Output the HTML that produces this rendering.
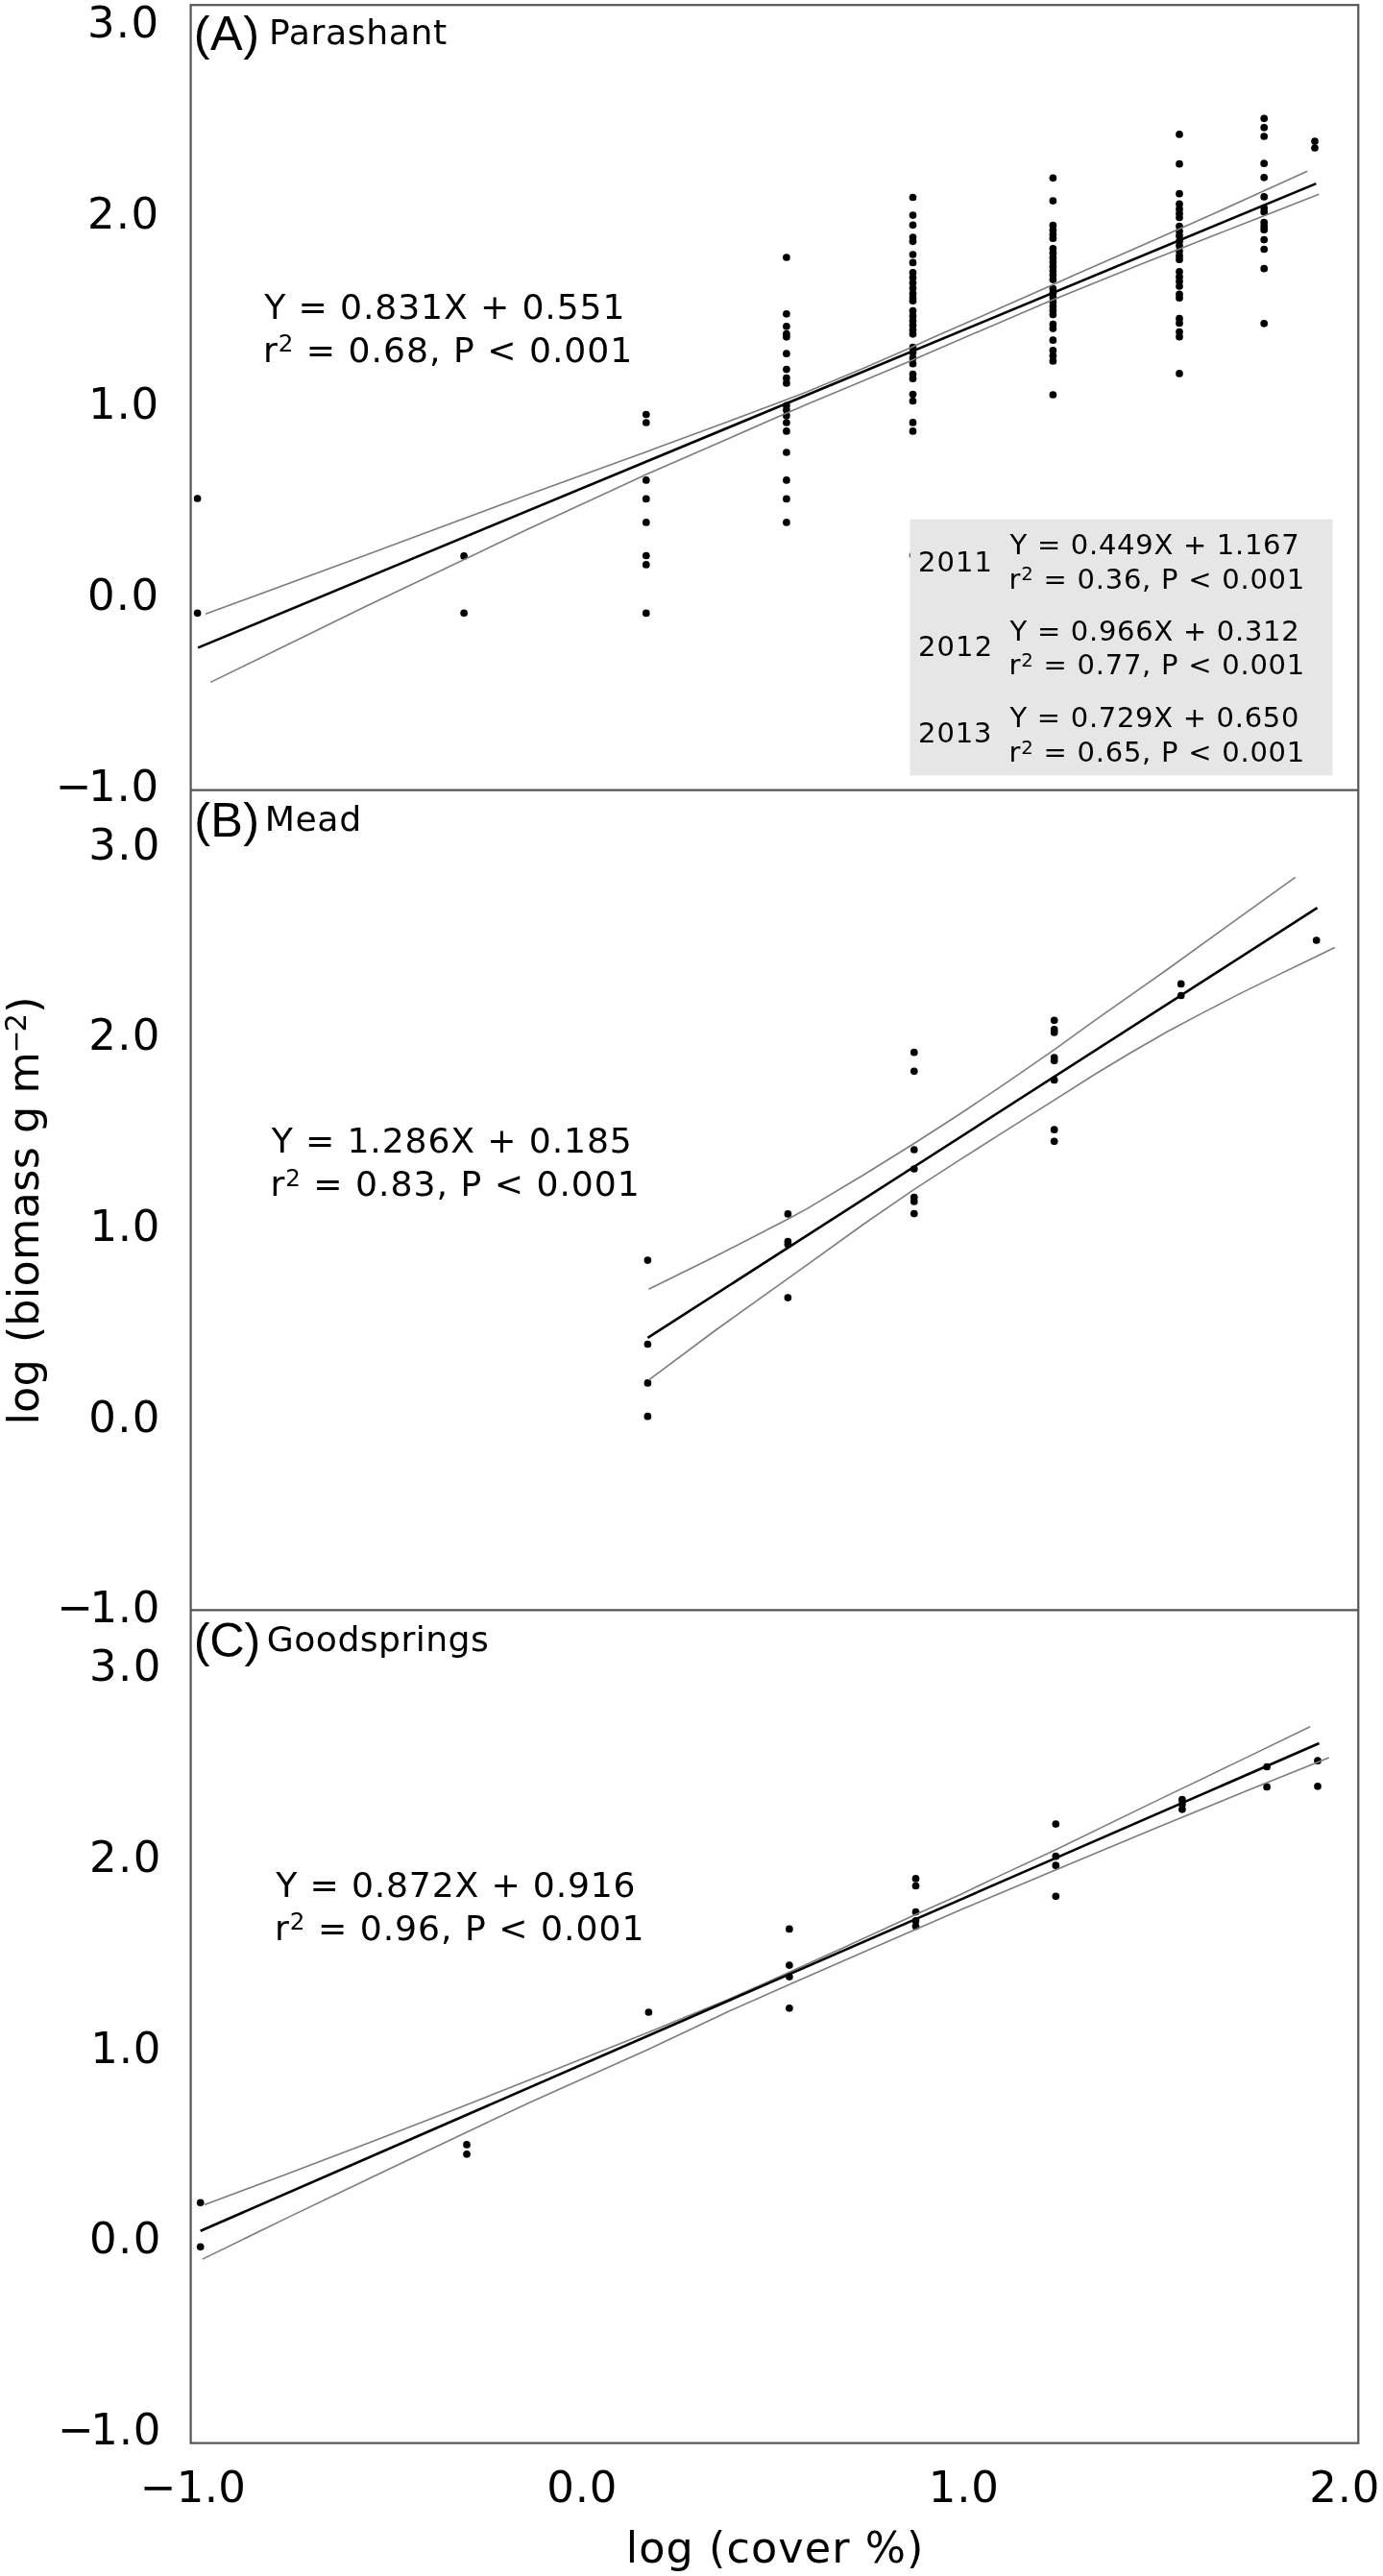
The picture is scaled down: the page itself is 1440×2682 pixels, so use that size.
<!DOCTYPE html>
<html lang="en">
<head>
<meta charset="utf-8">
<title>log biomass vs log cover</title>
<style>
html,body{margin:0;padding:0;background:#fff;}
svg{display:block;filter:blur(0.35px);}
text{fill:#000;}
.tick{font-family:'DejaVu Sans','Liberation Sans',sans-serif;font-size:45px;}
.axis{font-family:'DejaVu Sans','Liberation Sans',sans-serif;font-size:44.5px;}
.eq{font-family:'DejaVu Sans','Liberation Sans',sans-serif;font-size:36.2px;}
.leg{font-family:'DejaVu Sans','Liberation Sans',sans-serif;font-size:29px;}
.plab{font-family:'Liberation Sans','DejaVu Sans',sans-serif;font-size:50.5px;}
.pname{font-family:'DejaVu Sans','Liberation Sans',sans-serif;font-size:36.2px;}
.frame{fill:none;stroke:#555;stroke-width:2.2;}
.reg{fill:none;stroke:#000;stroke-width:2.6;}
.ci{fill:none;stroke:#7c7c7c;stroke-width:1.6;}
.pts circle{fill:#000;}
</style>
</head>
<body>
<svg width="1440" height="2682" viewBox="0 0 1440 2682">
<rect x="0" y="0" width="1440" height="2682" fill="#fff"/>

<g class="pts">
<circle cx="205.6" cy="519.0" r="3.85"/>
<circle cx="205.6" cy="638.3" r="3.85"/>
<circle cx="483.1" cy="578.9" r="3.85"/>
<circle cx="483.1" cy="638.3" r="3.85"/>
<circle cx="672.8" cy="431.5" r="3.85"/>
<circle cx="672.8" cy="440.0" r="3.85"/>
<circle cx="672.8" cy="499.9" r="3.85"/>
<circle cx="672.8" cy="519.4" r="3.85"/>
<circle cx="672.8" cy="543.9" r="3.85"/>
<circle cx="672.8" cy="578.5" r="3.85"/>
<circle cx="672.8" cy="587.9" r="3.85"/>
<circle cx="672.8" cy="638.4" r="3.85"/>
<circle cx="818.9" cy="268.0" r="3.85"/>
<circle cx="818.9" cy="326.8" r="3.85"/>
<circle cx="818.9" cy="339.8" r="3.85"/>
<circle cx="818.9" cy="347.6" r="3.85"/>
<circle cx="818.9" cy="350.8" r="3.85"/>
<circle cx="818.9" cy="368.2" r="3.85"/>
<circle cx="818.9" cy="384.6" r="3.85"/>
<circle cx="818.9" cy="393.7" r="3.85"/>
<circle cx="818.9" cy="398.9" r="3.85"/>
<circle cx="818.9" cy="422.3" r="3.85"/>
<circle cx="818.9" cy="426.8" r="3.85"/>
<circle cx="818.9" cy="432.8" r="3.85"/>
<circle cx="818.9" cy="440.0" r="3.85"/>
<circle cx="818.9" cy="448.9" r="3.85"/>
<circle cx="818.9" cy="471.0" r="3.85"/>
<circle cx="818.9" cy="499.9" r="3.85"/>
<circle cx="818.9" cy="519.4" r="3.85"/>
<circle cx="818.9" cy="543.9" r="3.85"/>
<circle cx="950.5" cy="205.5" r="3.85"/>
<circle cx="950.5" cy="224.1" r="3.85"/>
<circle cx="950.5" cy="234.3" r="3.85"/>
<circle cx="950.5" cy="247.1" r="3.85"/>
<circle cx="950.5" cy="251.3" r="3.85"/>
<circle cx="950.5" cy="265.0" r="3.85"/>
<circle cx="950.5" cy="273.4" r="3.85"/>
<circle cx="950.5" cy="283.8" r="3.85"/>
<circle cx="950.5" cy="289.0" r="3.85"/>
<circle cx="950.5" cy="294.5" r="3.85"/>
<circle cx="950.5" cy="300.0" r="3.85"/>
<circle cx="950.5" cy="305.5" r="3.85"/>
<circle cx="950.5" cy="310.0" r="3.85"/>
<circle cx="950.5" cy="313.2" r="3.85"/>
<circle cx="950.5" cy="323.6" r="3.85"/>
<circle cx="950.5" cy="328.9" r="3.85"/>
<circle cx="950.5" cy="334.1" r="3.85"/>
<circle cx="950.5" cy="338.8" r="3.85"/>
<circle cx="950.5" cy="343.6" r="3.85"/>
<circle cx="950.5" cy="347.8" r="3.85"/>
<circle cx="950.5" cy="361.7" r="3.85"/>
<circle cx="950.5" cy="367.1" r="3.85"/>
<circle cx="950.5" cy="372.9" r="3.85"/>
<circle cx="950.5" cy="378.7" r="3.85"/>
<circle cx="950.5" cy="389.7" r="3.85"/>
<circle cx="950.5" cy="394.2" r="3.85"/>
<circle cx="950.5" cy="410.6" r="3.85"/>
<circle cx="950.5" cy="417.5" r="3.85"/>
<circle cx="950.5" cy="439.9" r="3.85"/>
<circle cx="950.5" cy="448.9" r="3.85"/>
<circle cx="950.5" cy="578.0" r="3.85"/>
<circle cx="1096.4" cy="185.3" r="3.85"/>
<circle cx="1096.4" cy="209.1" r="3.85"/>
<circle cx="1096.4" cy="234.6" r="3.85"/>
<circle cx="1096.4" cy="239.6" r="3.85"/>
<circle cx="1096.4" cy="244.2" r="3.85"/>
<circle cx="1096.4" cy="248.2" r="3.85"/>
<circle cx="1096.4" cy="258.8" r="3.85"/>
<circle cx="1096.4" cy="263.4" r="3.85"/>
<circle cx="1096.4" cy="268.4" r="3.85"/>
<circle cx="1096.4" cy="272.9" r="3.85"/>
<circle cx="1096.4" cy="277.5" r="3.85"/>
<circle cx="1096.4" cy="282.0" r="3.85"/>
<circle cx="1096.4" cy="286.6" r="3.85"/>
<circle cx="1096.4" cy="291.1" r="3.85"/>
<circle cx="1096.4" cy="300.7" r="3.85"/>
<circle cx="1096.4" cy="305.2" r="3.85"/>
<circle cx="1096.4" cy="309.8" r="3.85"/>
<circle cx="1096.4" cy="314.3" r="3.85"/>
<circle cx="1096.4" cy="318.9" r="3.85"/>
<circle cx="1096.4" cy="323.4" r="3.85"/>
<circle cx="1096.4" cy="327.6" r="3.85"/>
<circle cx="1096.4" cy="337.5" r="3.85"/>
<circle cx="1096.4" cy="342.1" r="3.85"/>
<circle cx="1096.4" cy="354.2" r="3.85"/>
<circle cx="1096.4" cy="364.8" r="3.85"/>
<circle cx="1096.4" cy="370.3" r="3.85"/>
<circle cx="1096.4" cy="375.9" r="3.85"/>
<circle cx="1096.4" cy="411.0" r="3.85"/>
<circle cx="1228.0" cy="139.9" r="3.85"/>
<circle cx="1228.0" cy="170.7" r="3.85"/>
<circle cx="1228.0" cy="201.7" r="3.85"/>
<circle cx="1228.0" cy="212.4" r="3.85"/>
<circle cx="1228.0" cy="217.7" r="3.85"/>
<circle cx="1228.0" cy="222.3" r="3.85"/>
<circle cx="1228.0" cy="226.5" r="3.85"/>
<circle cx="1228.0" cy="235.5" r="3.85"/>
<circle cx="1228.0" cy="240.8" r="3.85"/>
<circle cx="1228.0" cy="245.4" r="3.85"/>
<circle cx="1228.0" cy="251.2" r="3.85"/>
<circle cx="1228.0" cy="255.8" r="3.85"/>
<circle cx="1228.0" cy="261.6" r="3.85"/>
<circle cx="1228.0" cy="266.3" r="3.85"/>
<circle cx="1228.0" cy="270.2" r="3.85"/>
<circle cx="1228.0" cy="282.9" r="3.85"/>
<circle cx="1228.0" cy="288.2" r="3.85"/>
<circle cx="1228.0" cy="292.9" r="3.85"/>
<circle cx="1228.0" cy="298.0" r="3.85"/>
<circle cx="1228.0" cy="306.3" r="3.85"/>
<circle cx="1228.0" cy="310.2" r="3.85"/>
<circle cx="1228.0" cy="331.7" r="3.85"/>
<circle cx="1228.0" cy="336.4" r="3.85"/>
<circle cx="1228.0" cy="345.6" r="3.85"/>
<circle cx="1228.0" cy="350.7" r="3.85"/>
<circle cx="1228.0" cy="388.9" r="3.85"/>
<circle cx="1316.2" cy="123.3" r="3.85"/>
<circle cx="1316.2" cy="132.8" r="3.85"/>
<circle cx="1316.2" cy="142.0" r="3.85"/>
<circle cx="1316.2" cy="170.2" r="3.85"/>
<circle cx="1316.2" cy="184.8" r="3.85"/>
<circle cx="1316.2" cy="204.9" r="3.85"/>
<circle cx="1316.2" cy="216.5" r="3.85"/>
<circle cx="1316.2" cy="220.7" r="3.85"/>
<circle cx="1316.2" cy="231.6" r="3.85"/>
<circle cx="1316.2" cy="235.5" r="3.85"/>
<circle cx="1316.2" cy="239.2" r="3.85"/>
<circle cx="1316.2" cy="249.6" r="3.85"/>
<circle cx="1316.2" cy="259.5" r="3.85"/>
<circle cx="1316.2" cy="279.7" r="3.85"/>
<circle cx="1316.2" cy="336.8" r="3.85"/>
<circle cx="1369.0" cy="147.1" r="3.85"/>
<circle cx="1369.0" cy="154.0" r="3.85"/>
</g>
<polyline class="ci" points="214.0,639.3 380.0,578.2 550.0,515.0 672.8,470.5 690.0,464.1 760.0,438.2 810.0,419.4 840.0,407.9 900.0,383.0 950.5,361.0 970.0,352.1 1030.0,325.8 1090.0,299.3 1120.0,285.8 1180.0,259.5 1240.0,233.1 1300.0,206.1 1361.2,178.3"/>
<polyline class="ci" points="219.2,710.4 380.0,631.7 550.0,550.7 672.8,494.1 690.0,486.5 760.0,455.9 810.0,434.1 840.0,421.1 900.0,396.0 950.5,374.8 970.0,366.3 1030.0,340.4 1090.0,314.8 1120.0,302.4 1180.0,278.3 1240.0,254.5 1300.0,230.9 1373.3,202.2"/>
<polyline class="reg" points="206.1,674.4 1370.4,191.1"/>
<rect x="947.5" y="540.7" width="439.9" height="266.7" fill="#e6e6e6"/>
<text x="956.08" y="594.6" class="leg" letter-spacing="1.00">2011</text>
<text x="1051.56" y="576.9" class="leg" letter-spacing="0.71">Y = 0.449X + 1.167</text>
<text x="1050.57" y="612.7" class="leg" letter-spacing="0.75">r<tspan font-size="19.7" dy="-8.4">2</tspan><tspan dy="8.4"> = 0.36, P &lt; 0.001</tspan></text>
<text x="956.08" y="682.6" class="leg" letter-spacing="1.07">2012</text>
<text x="1051.56" y="666.8" class="leg" letter-spacing="0.71">Y = 0.966X + 0.312</text>
<text x="1050.57" y="702.4" class="leg" letter-spacing="0.75">r<tspan font-size="19.7" dy="-8.4">2</tspan><tspan dy="8.4"> = 0.77, P &lt; 0.001</tspan></text>
<text x="956.08" y="773.0" class="leg" letter-spacing="0.88">2013</text>
<text x="1051.56" y="756.9" class="leg" letter-spacing="0.69">Y = 0.729X + 0.650</text>
<text x="1050.57" y="793.0" class="leg" letter-spacing="0.75">r<tspan font-size="19.7" dy="-8.4">2</tspan><tspan dy="8.4"> = 0.65, P &lt; 0.001</tspan></text>
<g class="pts">
<circle cx="674.4" cy="1312.1" r="3.85"/>
<circle cx="674.4" cy="1399.5" r="3.85"/>
<circle cx="674.4" cy="1439.9" r="3.85"/>
<circle cx="674.4" cy="1474.7" r="3.85"/>
<circle cx="820.4" cy="1263.9" r="3.85"/>
<circle cx="820.4" cy="1292.6" r="3.85"/>
<circle cx="820.4" cy="1295.6" r="3.85"/>
<circle cx="820.4" cy="1351.1" r="3.85"/>
<circle cx="951.8" cy="1095.7" r="3.85"/>
<circle cx="951.8" cy="1115.3" r="3.85"/>
<circle cx="951.8" cy="1197.0" r="3.85"/>
<circle cx="951.8" cy="1217.0" r="3.85"/>
<circle cx="951.8" cy="1246.5" r="3.85"/>
<circle cx="951.8" cy="1250.9" r="3.85"/>
<circle cx="951.8" cy="1263.6" r="3.85"/>
<circle cx="1097.7" cy="1062.3" r="3.85"/>
<circle cx="1097.7" cy="1071.9" r="3.85"/>
<circle cx="1097.7" cy="1075.0" r="3.85"/>
<circle cx="1097.7" cy="1101.1" r="3.85"/>
<circle cx="1097.7" cy="1104.3" r="3.85"/>
<circle cx="1097.7" cy="1124.4" r="3.85"/>
<circle cx="1097.7" cy="1176.2" r="3.85"/>
<circle cx="1097.7" cy="1188.3" r="3.85"/>
<circle cx="1229.7" cy="1024.4" r="3.85"/>
<circle cx="1229.7" cy="1036.5" r="3.85"/>
<circle cx="1370.7" cy="979.0" r="3.85"/>
</g>
<polyline class="ci" points="675.4,1342.2 745.0,1308.0 820.4,1269.3 840.0,1258.6 900.0,1222.8 951.8,1190.5 1000.0,1159.5 1050.0,1125.9 1097.7,1092.8 1140.0,1062.3 1215.2,1009.5 1269.7,970.1 1348.7,913.4"/>
<polyline class="ci" points="675.4,1436.8 745.0,1385.0 820.4,1331.1 840.0,1317.1 900.0,1274.0 951.8,1238.3 1000.0,1207.2 1050.0,1175.3 1097.7,1145.4 1140.0,1118.5 1177.0,1096.3 1215.2,1074.3 1252.0,1054.6 1290.4,1034.9 1328.0,1016.4 1365.6,998.2 1389.7,986.5"/>
<polyline class="reg" points="674.4,1392.8 1371.6,945.2"/>
<g class="pts">
<circle cx="208.7" cy="2293.3" r="3.85"/>
<circle cx="208.7" cy="2339.3" r="3.85"/>
<circle cx="486.0" cy="2232.9" r="3.85"/>
<circle cx="486.0" cy="2242.8" r="3.85"/>
<circle cx="675.4" cy="2095.0" r="3.85"/>
<circle cx="821.9" cy="2008.4" r="3.85"/>
<circle cx="821.9" cy="2046.1" r="3.85"/>
<circle cx="821.9" cy="2058.1" r="3.85"/>
<circle cx="821.9" cy="2090.8" r="3.85"/>
<circle cx="953.5" cy="1955.9" r="3.85"/>
<circle cx="953.5" cy="1963.5" r="3.85"/>
<circle cx="953.5" cy="1990.6" r="3.85"/>
<circle cx="953.5" cy="1999.8" r="3.85"/>
<circle cx="953.5" cy="2005.6" r="3.85"/>
<circle cx="1099.3" cy="1899.1" r="3.85"/>
<circle cx="1099.3" cy="1932.7" r="3.85"/>
<circle cx="1099.3" cy="1942.2" r="3.85"/>
<circle cx="1099.3" cy="1974.3" r="3.85"/>
<circle cx="1230.9" cy="1873.7" r="3.85"/>
<circle cx="1230.9" cy="1878.6" r="3.85"/>
<circle cx="1230.9" cy="1883.8" r="3.85"/>
<circle cx="1319.1" cy="1839.5" r="3.85"/>
<circle cx="1319.1" cy="1860.4" r="3.85"/>
<circle cx="1372.0" cy="1833.2" r="3.85"/>
<circle cx="1372.0" cy="1859.8" r="3.85"/>
</g>
<polyline class="ci" points="212.9,2295.4 300.0,2263.1 390.0,2228.7 480.0,2193.8 550.0,2165.9 580.0,2154.0 675.0,2116.0 760.0,2080.9 800.0,2063.2 880.0,2026.9 953.5,1993.3 1000.0,1972.4 1040.0,1953.4 1100.0,1925.6 1200.0,1876.9 1290.0,1833.6 1364.1,1797.8"/>
<polyline class="ci" points="210.8,2352.1 300.0,2308.6 390.0,2265.5 480.0,2222.7 550.0,2189.7 580.0,2176.2 675.0,2133.7 760.0,2093.6 821.7,2066.3 880.0,2040.7 953.5,2008.7 1000.0,1988.4 1040.0,1971.8 1100.0,1946.6 1200.0,1904.7 1290.0,1867.8 1383.7,1830.0"/>
<polyline class="reg" points="208.7,2322.7 1373.5,1815.0"/>
<rect class="frame" x="198.6" y="5.2" width="1215.7" height="2538.4"/>
<line class="frame" x1="198.6" y1="822.6" x2="1414.3" y2="822.6"/>
<line class="frame" x1="198.6" y1="1676.3" x2="1414.3" y2="1676.3"/>
<text x="90.92" y="39.0" class="tick" letter-spacing="1.3">3.0</text>
<text x="90.92" y="237.7" class="tick" letter-spacing="1.3">2.0</text>
<text x="92.12" y="436.3" class="tick" letter-spacing="0.7">1.0</text>
<text x="90.92" y="635.0" class="tick" letter-spacing="1.3">0.0</text>
<text y="833.6" class="tick" letter-spacing="0.7"><tspan x="57.73">−</tspan><tspan x="92.12">1.0</tspan></text>
<text x="92.32" y="894.5" class="tick" letter-spacing="1.3">3.0</text>
<text x="92.32" y="1093.2" class="tick" letter-spacing="1.3">2.0</text>
<text x="93.52" y="1291.8" class="tick" letter-spacing="0.7">1.0</text>
<text x="92.32" y="1490.5" class="tick" letter-spacing="1.3">0.0</text>
<text y="1689.1" class="tick" letter-spacing="0.7"><tspan x="59.13">−</tspan><tspan x="93.52">1.0</tspan></text>
<text x="93.12" y="1750.4" class="tick" letter-spacing="1.3">3.0</text>
<text x="93.12" y="1949.1" class="tick" letter-spacing="1.3">2.0</text>
<text x="94.32" y="2147.7" class="tick" letter-spacing="0.7">1.0</text>
<text x="93.12" y="2346.4" class="tick" letter-spacing="1.3">0.0</text>
<text y="2545.0" class="tick" letter-spacing="0.7"><tspan x="59.93">−</tspan><tspan x="94.32">1.0</tspan></text>
<text x="145.63" y="2604.7" class="tick" letter-spacing="0.36">−1.0</text>
<text x="569.13" y="2604.7" class="tick" letter-spacing="0.89">0.0</text>
<text x="966.86" y="2604.7" class="tick" letter-spacing="0.73">1.0</text>
<text x="1363.30" y="2604.7" class="tick" letter-spacing="0.81">2.0</text>
<text xml:space="preserve" x="651.81" y="2667.9" class="axis" letter-spacing="1.07">log (cover %)</text>
<text transform="translate(39.8,1479.4) rotate(-90)" class="axis" letter-spacing="0.3"><tspan x="-4.2">log </tspan><tspan x="81.3">(</tspan><tspan x="98.6">biomass </tspan><tspan x="299.3">g </tspan><tspan x="340.9">m</tspan><tspan font-size="28.0" dy="-13.6" x="383.2">−</tspan><tspan font-size="30.7" dy="0.7" x="405.0">2</tspan><tspan dy="12.9" x="424.6">)</tspan></text>
<text x="201.67" y="51.6" class="plab" letter-spacing="0.57">(A)</text><text x="279.95" y="46.2" class="pname" letter-spacing="0.60">Parashant</text>
<text x="202.27" y="871.0" class="plab" letter-spacing="0.27">(B)</text><text x="275.65" y="865.3" class="pname" letter-spacing="0.62">Mead</text>
<text x="201.67" y="1724.6" class="plab" letter-spacing="-0.17">(C)</text><text x="277.77" y="1719.2" class="pname" letter-spacing="0.43">Goodsprings</text>
<text x="275.17" y="332.2" class="eq" letter-spacing="0.86">Y = 0.831X + 0.551</text>
<text x="273.91" y="376.6" class="eq" letter-spacing="0.96">r<tspan font-size="24.6" dy="-10.5">2</tspan><tspan dy="10.5"> = 0.68, P &lt; 0.001</tspan></text>
<text x="282.67" y="1200.1" class="eq" letter-spacing="0.85">Y = 1.286X + 0.185</text>
<text x="281.41" y="1245.0" class="eq" letter-spacing="0.96">r<tspan font-size="24.6" dy="-10.5">2</tspan><tspan dy="10.5"> = 0.83, P &lt; 0.001</tspan></text>
<text x="287.27" y="1974.9" class="eq" letter-spacing="0.80">Y = 0.872X + 0.916</text>
<text x="286.01" y="2019.6" class="eq" letter-spacing="0.96">r<tspan font-size="24.6" dy="-10.5">2</tspan><tspan dy="10.5"> = 0.96, P &lt; 0.001</tspan></text>
</svg>
</body>
</html>
